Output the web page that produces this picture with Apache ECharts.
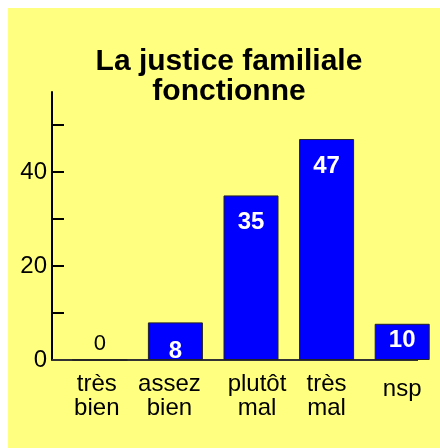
<!DOCTYPE html>
<html>
<head>
<meta charset="utf-8">
<script src="https://cdn.jsdelivr.net/npm/echarts@6/dist/echarts.min.js"></script>
<style>
  html, body { margin: 0; padding: 0; background: #fff; }
  #chart { width: 440px; height: 448px; }
</style>
</head>
<body>
<div id="chart"></div>
<script>
(function(){
  // valeurs
  const categories = ["très\nbien", "assez\nbien", "plutôt\nmal", "très\nmal", "nsp"];
  const values = [0, 8, 35, 47, 7.7];          // hauteur des barres
  const valueLabels = ["0", "8", "35", "47", "10"];
  const tickValues = [0, 10, 20, 30, 40, 50];
  const tickLabels = [0, 20, 40];

  // petits réglages de position des étiquettes
  const catPadding = [[0, 6, 0, 0], [0, 12, 0, 0], [0, 0, 0, 12], [0, 0, 0, 0], [5, 0, 0, 0]];
  const labelDist = [5, 17, 15, 15, 5];

  const chart = echarts.init(document.getElementById("chart"));
  const font = "'Liberation Sans', Arial, sans-serif";

  const option = {
    backgroundColor: "#fff",
    animation: false,
    title: {
      text: "La justice familiale\nfonctionne",
      left: 229,
      top: 47,
      padding: 0,
      textAlign: "center",
      textStyle: { fontFamily: font, fontSize: 30, fontWeight: "bold", lineHeight: 30, color: "#000" }
    },
    grid: { left: 62, right: 0, top: 92, bottom: 88 },
    xAxis: {
      type: "category",
      data: categories.map((c, i) => ({ value: c, textStyle: { padding: catPadding[i] } })),
      axisLine: { show: false },
      axisTick: { show: false },
      axisLabel: { margin: 12, fontFamily: font, fontSize: 24, lineHeight: 24, color: "#000", interval: 0 }
    },
    yAxis: {
      type: "value",
      min: 0,
      max: 57,
      offset: 10,
      splitLine: { show: false },
      axisLine: { show: true, lineStyle: { color: "#000", width: 2 } },
      axisTick: { show: true, inside: true, length: 12, customValues: tickValues, lineStyle: { color: "#000", width: 2 } },
      axisLabel: { customValues: tickLabels, margin: 5, fontFamily: font, fontSize: 24, color: "#000" }
    },
    graphic: [{
      type: "rect",
      z: -10,
      shape: { x: 8, y: 8, width: 432, height: 440 },
      style: { fill: "#FFFF80" },
      silent: true
    }],
    series: [{
      type: "bar",
      barWidth: 55,
      data: values.map((v, i) => ({
        value: v,
        label: i === 0
          ? { show: true, position: "top", distance: labelDist[i], color: "#000", fontWeight: "normal", fontSize: 22 }
          : { show: true, position: "insideTop", distance: labelDist[i] }
      })),
      itemStyle: { color: "#0000FF", borderColor: "#222", borderWidth: 1 },
      label: {
        show: true,
        fontFamily: font,
        fontSize: 24,
        fontWeight: "bold",
        color: "#fff",
        formatter: p => valueLabels[p.dataIndex]
      }
    }]
  };

  chart.setOption(option);

  // ligne de base de l'axe horizontal
  const y0 = chart.convertToPixel({ yAxisIndex: 0 }, 0);
  chart.setOption({
    graphic: [{
      type: "rect",
      z: -10,
      shape: { x: 8, y: 8, width: 432, height: 440 },
      style: { fill: "#FFFF80" },
      silent: true
    }, {
      type: "line",
      z: 1,
      shape: { x1: 52, y1: y0, x2: 418, y2: y0 },
      style: { stroke: "#333", lineWidth: 2 },
      silent: true
    }]
  });
})();
</script>
</body>
</html>
